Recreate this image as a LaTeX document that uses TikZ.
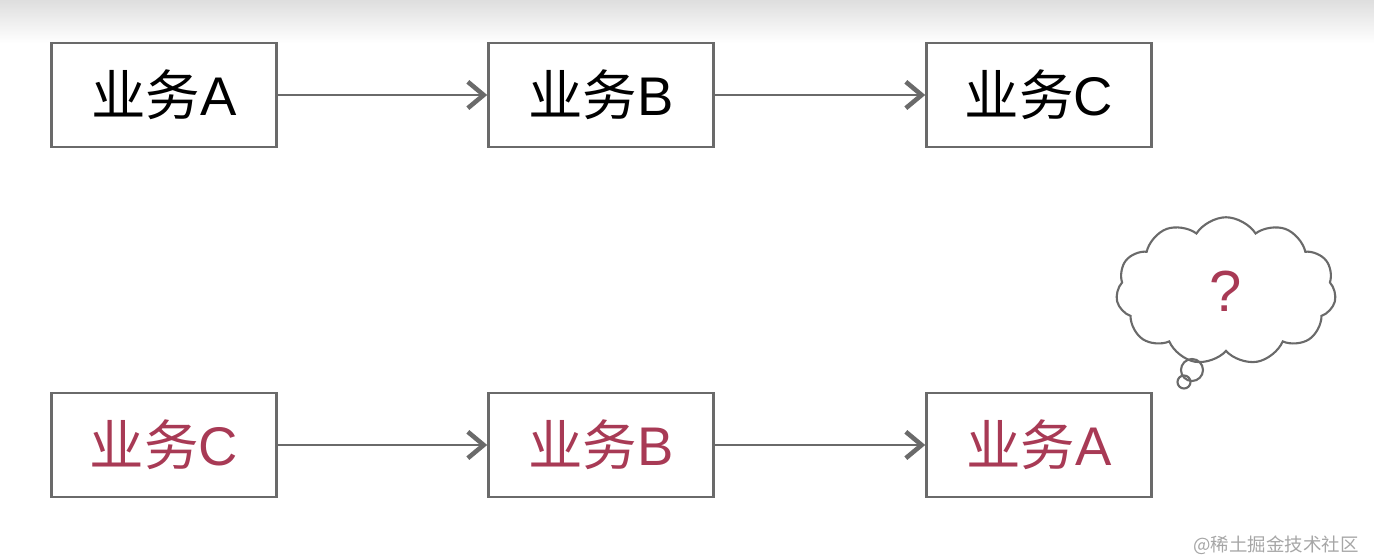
\documentclass[tikz,border=0pt]{standalone}
\usepackage{fontspec}
\setmainfont{Liberation Sans}
\newfontfamily\cjk{Noto Sans CJK SC}
\usetikzlibrary{arrows.meta,shapes.symbols}
\definecolor{bizred}{HTML}{A83A55}
\definecolor{linegray}{HTML}{6A6A6A}
\begin{document}
\begin{tikzpicture}[x=0.02cm,y=0.02cm]
            \tikzset{
            biz node/.style={rectangle,draw=linegray,line width=1.5pt,minimum width=4.5cm,minimum height=2.08cm,inner sep=0,font=\fontsize{31}{36}\selectfont},
            biz edge/.style={draw=linegray,line width=1.3pt,-{Straight Barb[line width=2.6pt,length=9pt,width=15pt]}}
            }
            \useasboundingbox (0,0) rectangle (1374,558);
            \shade[top color=black!13,bottom color=white] (0,515) rectangle (1374,558);
            % top row
            \node[biz node] (a1) at (164, 463) {{\cjk 业务}A};
            \node[biz node] (b1) at (601, 463) {{\cjk 业务}B};
            \node[biz node] (c1) at (1039, 463) {{\cjk 业务}C};
            % bottom row
            \node[biz node,text=bizred] (c2) at (164, 113) {{\cjk 业务}C};
            \node[biz node,text=bizred] (b2) at (601, 113) {{\cjk 业务}B};
            \node[biz node,text=bizred] (a2) at (1039, 113) {{\cjk 业务}A};

            \path
            (a1) edge[biz edge] (b1)
            (b1) edge[biz edge] (c1)
            (c2) edge[biz edge] (b2)
            (b2) edge[biz edge] (a2)
            ;
            % thought cloud
            \node[cloud,draw=linegray,line width=1.2pt,cloud puffs=11,cloud puff arc=115,aspect=1.5,minimum width=4.4cm,minimum height=2.95cm,inner sep=0,text=bizred,font=\fontsize{33}{38}\selectfont] (q) at (1226, 267) {?};
            \node[circle,draw=linegray,line width=1.2pt,minimum size=0.44cm,inner sep=0] (q1) at (1192, 188) {};
            \node[circle,draw=linegray,line width=1.2pt,minimum size=0.26cm,inner sep=0] (q2) at (1184, 176) {};
            \node[text=black!35,font=\cjk\fontsize{10.5}{12}\selectfont] (mark) at (1276, 13) {@稀土掘金技术社区};
        \end{tikzpicture}
\end{document}
